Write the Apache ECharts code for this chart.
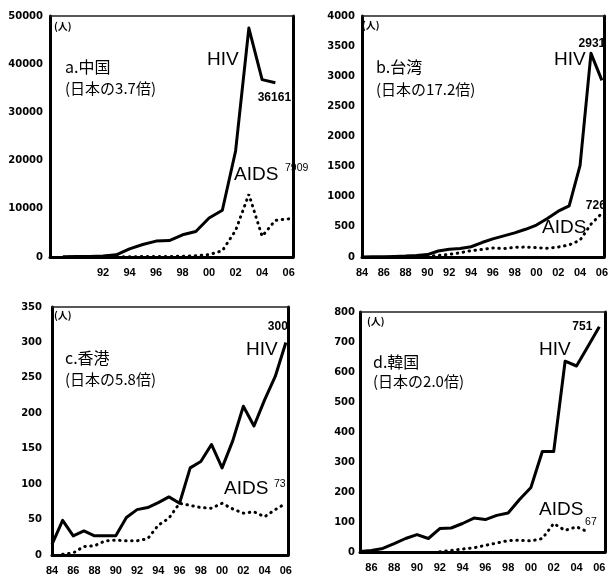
<!DOCTYPE html>
<html>
<head>
<meta charset="utf-8">
<script src="https://cdn.jsdelivr.net/npm/echarts@6/dist/echarts.min.js"></script>
<style>
  html, body { margin: 0; padding: 0; background: #fff; }
  #chart { width: 611px; height: 577px; }
</style>
</head>
<body>
<div id="chart"></div>
<script>
// ---- a. 中国 ----
const chinaHivYears  = [1989, 1990, 1991, 1992, 1993, 1994, 1995, 1996, 1997, 1998, 1999, 2000, 2001, 2002, 2003, 2004, 2005];
const chinaHiv       = [50, 100, 100, 200, 450, 1700, 2600, 3300, 3400, 4600, 5300, 8100, 9700, 22000, 47500, 36800, 36161];
const chinaAidsYears = [1989, 1990, 1991, 1992, 1993, 1994, 1995, 1996, 1997, 1998, 1999, 2000, 2001, 2002, 2003, 2004, 2005, 2006];
const chinaAids      = [0, 0, 0, 0, 50, 50, 100, 100, 100, 150, 250, 500, 1300, 5500, 13000, 4300, 7600, 7909];

// ---- b. 台湾 ----
const taiwanHivYears  = [1984, 1985, 1986, 1987, 1988, 1989, 1990, 1991, 1992, 1993, 1994, 1995, 1996, 1997, 1998, 1999, 2000, 2001, 2002, 2003, 2004, 2005, 2006];
const taiwanHiv       = [2, 3, 5, 10, 15, 25, 40, 100, 130, 140, 170, 240, 300, 350, 400, 460, 530, 640, 760, 850, 1520, 3380, 2931];
const taiwanAidsYears = [1990, 1991, 1992, 1993, 1994, 1995, 1996, 1997, 1998, 1999, 2000, 2001, 2002, 2003, 2004, 2005, 2006];
const taiwanAids      = [10, 25, 45, 70, 105, 125, 150, 140, 160, 165, 155, 145, 165, 200, 280, 545, 726];

// ---- c. 香港 ----
const hkHivYears  = [1984, 1985, 1986, 1987, 1988, 1989, 1990, 1991, 1992, 1993, 1994, 1995, 1996, 1997, 1998, 1999, 2000, 2001, 2002, 2003, 2004, 2005, 2006];
const hkHiv       = [15, 49, 27, 34, 27, 27, 27, 53, 64, 67, 74, 82, 73, 123, 132, 156, 123, 161, 210, 182, 219, 252, 300];
const hkAidsYears = [1985, 1986, 1987, 1988, 1989, 1990, 1991, 1992, 1993, 1994, 1995, 1996, 1997, 1998, 1999, 2000, 2001, 2002, 2003, 2004, 2005, 2006];
const hkAids      = [1, 3, 12, 13, 20, 21, 20, 20, 23, 42, 52, 73, 70, 67, 66, 73, 65, 59, 61, 54, 64, 73];

// ---- d. 韓国 ----
const koreaHivYears  = [1985, 1986, 1987, 1988, 1989, 1990, 1991, 1992, 1993, 1994, 1995, 1996, 1997, 1998, 1999, 2000, 2001, 2002, 2003, 2004, 2005, 2006];
const koreaHiv       = [2, 5, 12, 28, 45, 58, 45, 78, 80, 95, 113, 108, 122, 130, 175, 215, 335, 335, 636, 620, 685, 751];
const koreaAidsYears = [1992, 1993, 1994, 1995, 1996, 1997, 1998, 1999, 2000, 2001, 2002, 2003, 2004, 2005];
const koreaAids      = [1, 5, 10, 14, 22, 30, 38, 39, 37, 45, 95, 72, 84, 67];

// panel titles and axis settings
const panelNames   = ['a.中国', 'b.台湾', 'c.香港', 'd.韓国'];
const panelRatios  = ['(日本の3.7倍)', '(日本の17.2倍)', '(日本の5.8倍)', '(日本の2.0倍)'];
const yMax         = [50000, 4000, 350, 800];
const yStep        = [10000, 500, 50, 100];
const xMin         = [1988, 1984, 1984, 1985];
const xMax         = [2006.33, 2006.2, 2006.2, 2006.5];
const firstXLabel  = [1992, 1984, 1984, 1986];

const layout = [
  { left: 50,  top: 16,  width: 243, height: 241 },
  { left: 362, top: 16,  width: 243, height: 241 },
  { left: 52,  top: 307, width: 236, height: 248 },
  { left: 360, top: 312, width: 245, height: 240 }
];

const pairs = (xs, ys) => xs.map((x, i) => [x, ys[i]]);

// value label attached to one data point
function labelled(point, offset, font) {
  return {
    value: point,
    symbol: 'circle', symbolSize: 0.1,
    label: {
      show: true, position: 'inside', offset: offset,
      formatter: p => String(p.value[1]),
      color: '#000', fontFamily: 'Liberation Sans',
      fontWeight: font.weight, fontSize: font.size
    }
  };
}

function withLabel(xs, ys, idx, offset, font) {
  const d = pairs(xs, ys);
  d[idx] = labelled(d[idx], offset, font);
  return d;
}

const bigFont = { weight: 'bold', size: 12 };
const smallFont = { weight: 'normal', size: 10.5 };

const hivData = [
  withLabel(chinaHivYears, chinaHiv, chinaHiv.length - 1, [-1, 15], bigFont),
  withLabel(taiwanHivYears, taiwanHiv, taiwanHiv.length - 1, [-10, -37], bigFont),
  withLabel(hkHivYears, hkHiv, hkHiv.length - 1, [-8, -16], bigFont),
  withLabel(koreaHivYears, koreaHiv, koreaHiv.length - 1, [-17, 0], bigFont)
];
const aidsData = [
  withLabel(chinaAidsYears, chinaAids, chinaAids.length - 1, [8, -51], smallFont),
  withLabel(taiwanAidsYears, taiwanAids, taiwanAids.length - 1, [-6, -8], bigFont),
  withLabel(hkAidsYears, hkAids, hkAids.length - 1, [-6, -19], smallFont),
  withLabel(koreaAidsYears, koreaAids, koreaAids.length - 1, [3, -10], smallFont)
];

const grids = layout.map(g => Object.assign({ show: false }, g));

const bottomAxes = layout.map((g, i) => ({
  type: 'value', gridIndex: i, position: 'bottom',
  min: xMin[i], max: xMax[i], interval: 1,
  axisLine: { show: true, onZero: false, lineStyle: { color: '#000', width: 3 } },
  axisTick: { show: false },
  splitLine: { show: false },
  axisLabel: {
    margin: 10, color: '#000', fontFamily: 'Liberation Sans', fontWeight: 'bold', fontSize: 11,
    showMinLabel: true, showMaxLabel: true, hideOverlap: false,
    formatter: v => (Number.isInteger(v) && v % 2 === 0 && v >= firstXLabel[i])
      ? String(v % 100).padStart(2, '0') : ''
  }
}));
const topAxes = layout.map((g, i) => ({
  type: 'value', gridIndex: i, position: 'top', min: 0, max: 1,
  axisLine: { show: true, onZero: false, lineStyle: { color: '#222', width: 1.5 } },
  axisTick: { show: false }, axisLabel: { show: false }, splitLine: { show: false }
}));
const leftAxes = layout.map((g, i) => ({
  type: 'value', gridIndex: i, position: 'left',
  min: 0, max: yMax[i], interval: yStep[i],
  axisLine: { show: true, onZero: false, lineStyle: { color: '#000', width: 3 } },
  axisTick: { show: false },
  splitLine: { show: false },
  axisLabel: {
    margin: i === 2 ? 10 : (i === 3 ? 5 : 7),
    color: '#000', fontFamily: 'DejaVu Sans', fontWeight: 'bold', fontSize: 10,
    formatter: v => String(v)
  }
}));
const rightAxes = layout.map((g, i) => ({
  type: 'value', gridIndex: i, position: 'right', min: 0, max: 1,
  axisLine: { show: true, onZero: false, lineStyle: { color: '#000', width: 3 } },
  axisTick: { show: false }, axisLabel: { show: false }, splitLine: { show: false }
}));

const series = [];
for (let i = 0; i < 4; i++) {
  series.push({
    type: 'line', name: 'HIV', xAxisIndex: i, yAxisIndex: i,
    data: hivData[i], showSymbol: true, symbol: 'none',
    lineStyle: { color: '#000', width: 3, join: 'round' },
    itemStyle: { color: '#000' }, z: 3
  });
  series.push({
    type: 'line', name: 'AIDS', xAxisIndex: i, yAxisIndex: i,
    data: aidsData[i], showSymbol: true, symbol: 'none',
    lineStyle: { color: '#000', width: 3, type: [0.5, 5.5], cap: 'round' },
    itemStyle: { color: '#000' }, z: 2
  });
}

// annotation text inside each panel
const cjk = '"Noto Sans CJK JP"';
const textAt = (x, y, text, font) => ({
  type: 'text', x: x, y: y, z: 10,
  style: { text: text, font: font, fill: '#000', textVerticalAlign: 'top' }
});
const unitPos   = [[54, 21], [362, 20], [54, 310], [367, 316]];
const namePos   = [[65, 59], [376, 59], [65, 350], [373, 354]];
const ratioPos  = [[65, 81], [376, 82], [65, 372], [373, 374]];
const hivPos    = [[207, 50], [554, 50], [246, 340], [539, 340]];
const aidsPos   = [[234, 165], [542, 218], [224, 479], [539, 500]];

const graphic = [];
for (let i = 0; i < 4; i++) {
  graphic.push(textAt(unitPos[i][0], unitPos[i][1], '(人)', 'bold 10px ' + cjk));
  graphic.push(textAt(namePos[i][0], namePos[i][1], panelNames[i], '16px ' + cjk));
  graphic.push(textAt(ratioPos[i][0], ratioPos[i][1], panelRatios[i], '15px ' + cjk));
  graphic.push(textAt(hivPos[i][0], hivPos[i][1], 'HIV', '19px "Liberation Sans"'));
  graphic.push(textAt(aidsPos[i][0], aidsPos[i][1], 'AIDS', '19px "Liberation Sans"'));
}

const chart = echarts.init(document.getElementById('chart'), null, { renderer: 'canvas' });
chart.setOption({
  animation: false,
  backgroundColor: '#fff',
  grid: grids,
  xAxis: bottomAxes.concat(topAxes),
  yAxis: leftAxes.concat(rightAxes),
  series: series,
  graphic: graphic
});
</script>
</body>
</html>
